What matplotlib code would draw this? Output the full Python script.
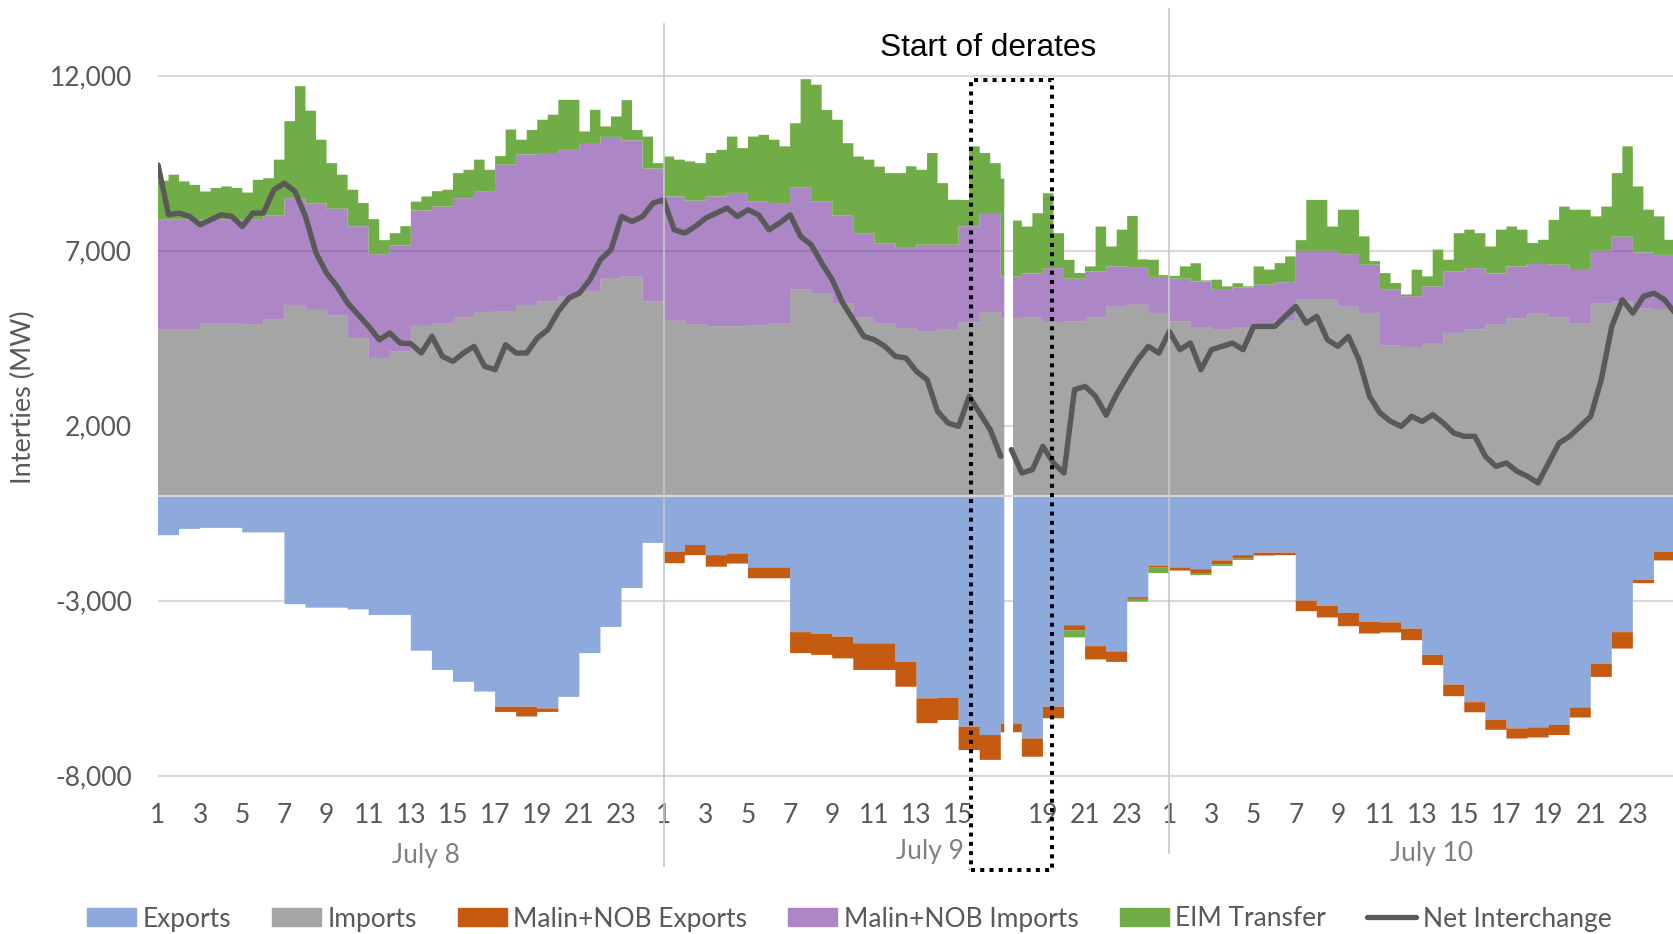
import numpy as np
import matplotlib
matplotlib.use("Agg")
import matplotlib.pyplot as plt
from matplotlib.lines import Line2D
from matplotlib.patches import Patch, Rectangle
from matplotlib.transforms import blended_transform_factory

plt.rcParams['font.family'] = ['Lato', 'DejaVu Sans']

# ---------------- data ----------------
days = ["July 8", "July 9", "July 10"]
hour_labels = [str(h) for h in range(1, 24, 2)]
y_ticks = [-8000, -3000, 2000, 7000, 12000]

# hourly values (72 hours: July 8 h1 .. July 10 h24), MW
imports = [4740, 4740, 4930, 4930, 4900, 5030, 5450, 5310, 5150, 4500, 3930, 4120,
           4850, 4930, 5100, 5250, 5270, 5450, 5550, 5690, 5850, 6200, 6260, 5550,
           5000, 4900, 4840, 4840, 4870, 4930, 5900, 5790, 5500, 5100, 4930, 4790,
           4690, 4740, 4950, 5250, 5070, 5100, 4960, 4980, 5100, 5400, 5460, 5220,
           4980, 4800, 4740, 4800, 4930, 5000, 5600, 5620, 5400, 5220, 4300, 4250,
           4360, 4650, 4750, 4900, 5070, 5200, 5100, 4930, 5500, 5550, 5350, 5310]

malin_nob_imports = [3160, 3160, 2970, 2970, 3000, 2970, 3050, 3040, 3050, 3200, 2970, 3030,
                     3300, 3330, 3400, 3450, 4190, 4300, 4240, 4190, 4200, 4050, 3890, 3800,
                     3550, 3530, 3710, 3810, 3530, 3430, 2900, 2610, 2500, 2400, 2270, 2290,
                     2480, 2430, 2750, 2800, 1190, 1250, 1540, 1220, 1300, 1150, 1050, 1030,
                     1220, 1320, 1140, 1150, 1100, 1100, 1400, 1380, 1500, 1380, 1600, 1450,
                     1620, 1750, 1750, 1450, 1480, 1420, 1500, 1520, 1500, 1850, 1600, 1570]

exports = [-1130, -950, -920, -920, -1050, -1050, -3100, -3200, -3200, -3250, -3410, -3410,
           -4430, -4980, -5320, -5600, -6030, -6030, -6080, -5750, -4500, -3750, -2640, -1350,
           -1600, -1410, -1700, -1650, -2050, -2050, -3900, -3950, -4030, -4220, -4220, -4750,
           -5790, -5770, -6600, -6840, -6510, -6940, -6030, -3700, -4300, -4450, -2900, -2000,
           -2050, -2100, -1850, -1700, -1630, -1630, -3000, -3150, -3350, -3600, -3620, -3800,
           -4550, -5400, -5900, -6400, -6650, -6620, -6550, -6050, -4800, -3900, -2400, -1600]

malin_nob_exports = [0, 0, 0, 0, 0, 0, 0, 0, 0, 0, 0, 0,
                     0, 0, 0, 0, -150, -280, -100, 0, 0, 0, 0, 0,
                     -330, -290, -330, -290, -310, -310, -600, -600, -620, -760, -760, -710,
                     -710, -640, -670, -710, -250, -520, -330, -150, -380, -300, -50, -60,
                     -90, -110, -110, -100, -80, -70, -300, -330, -380, -340, -290, -330,
                     -290, -330, -290, -290, -290, -290, -290, -290, -380, -470, -100, -250]

eim_transfer_negative = [0] * 43 + [-200, 0, 0, -80, -150, 0, -60, -50, -40] + [0] * 20

# half-hourly values (144 half hours)
eim_transfer = [1100, 1270, 1080, 980, 790, 890, 935, 890, 760, 1125, 1070, 1600,
                2200, 3200, 2650, 1820, 1300, 970, 1040, 660, 1000, 400, 350, 550,
                250, 400, 440, 480, 715, 810, 900, 610, 240, 1000, 420, 700,
                950, 1095, 1430, 1430, 356, 975, 300, 585, 1150, 300, 910, 150,
                1140, 1050, 1120, 1070, 1240, 1330, 1610, 1280, 1860, 1910, 1810, 1620,
                1840, 3100, 3340, 2620, 2740, 2070, 2190, 2100, 2200, 2015, 2135, 2330,
                2140, 2620, 1760, 1285, 750, 2280, 1740, 1450, 2800, 1600, 1340, 1720,
                2140, 1000, 540, 160, 150, 1290, 570, 1050, 1480, 240, 490, 50,
                80, 350, 520, 30, 290, 100, 120, 30, 520, 430, 545, 736,
                300, 1450, 1450, 690, 1270, 1270, 810, 100, 460, 174, 50, 755,
                285, 1050, 340, 1100, 1100, 1000, 770, 1250, 1140, 1050, 600, 690,
                1280, 1660, 1720, 1720, 980, 1260, 1815, 2580, 1885, 1220, 1100, 430]

# net interchange every half hour, 0 .. 72 h (145 samples)
net_interchange = [9450, 8025, 8073, 7978, 7740, 7883, 8025, 7978, 7692, 8073, 8073, 8739,
                   8930, 8692, 7978, 6931, 6360, 5979, 5503, 5169, 4836, 4455, 4646, 4360,
                   4340, 4075, 4551, 3979, 3837, 4075, 4265, 3694, 3599, 4313, 4075, 4075,
                   4503, 4741, 5265, 5645, 5788, 6169, 6740, 7026, 7978, 7835, 7978, 8359,
                   8454, 7597, 7502, 7692, 7930, 8073, 8216, 7978, 8168, 8025, 7597, 7787,
                   8025, 7407, 7169, 6645, 6169, 5503, 5027, 4551, 4455, 4265, 3979, 3932,
                   3551, 3313, 2408, 2075, 1980, 2837, 2361, 1885, 1123, 1314, 647, 743,
                   1409, 933, 647, 3027, 3123, 2837, 2300, 2900, 3408, 3884, 4265, 4075,
                   4693, 4170, 4360, 3599, 4170, 4265, 4360, 4170, 4836, 4836, 4836, 5122,
                   5407, 4931, 5122, 4455, 4265, 4551, 3884, 2837, 2361, 2123, 1980, 2266,
                   2120, 2313, 2075, 1790, 1695, 1695, 1123, 838, 933, 695, 552, 362,
                   933, 1504, 1695, 1980, 2266, 3313, 4836, 5598, 5217, 5693, 5788, 5598,
                   5217]

data_gap = (40.2, 40.55)   # hours with missing data

# ---------------- styling ----------------
C_EXP = '#8EA9DB'
C_IMP = '#A5A5A5'
C_MEXP = '#C55A11'
C_MIMP = '#AE86C8'
C_MIMP_BASE = '#75359F'
C_EIM = '#70AD47'
C_NET = '#595959'
TXT = '#595959'

W, H = 1673, 934
fig = plt.figure(figsize=(W / 100, H / 100), dpi=100)
ax_left, ax_right = 158, 1675
ax_top, ax_bot = 74.8, 776.5
ax = fig.add_axes([ax_left / W, 1 - ax_bot / H, (ax_right - ax_left) / W, (ax_bot - ax_top) / H])
ax.set_xlim(0, 72)
ax.set_ylim(-8025, 12025)

# fine step grid (5 minute) for stacked areas
sub = 12
x5 = np.arange(72 * sub + 1) / sub
gap_mask = (x5 >= data_gap[0]) & (x5 < data_gap[1])


def on_grid(vals, per_hour):
    arr = np.repeat(np.asarray(vals, float), sub // per_hour)
    arr = np.append(arr, arr[-1])
    arr[gap_mask] = np.nan
    return arr


imp = on_grid(imports, 1)
mimp = on_grid(malin_nob_imports, 1)
eim = on_grid(eim_transfer, 2)
exp_ = on_grid(exports, 1)
mexp = on_grid(malin_nob_exports, 1)
eneg = on_grid(eim_transfer_negative, 1)

kw = dict(step='post', linewidth=0, antialiased=True)
ax.fill_between(x5, 0, imp, color=C_IMP, zorder=2, **kw)
ax.fill_between(x5, imp, imp + mimp, color=C_MIMP_BASE, alpha=0.6, zorder=2, **kw)
ax.fill_between(x5, imp + mimp, imp + mimp + eim, color=C_EIM, zorder=2, **kw)
ax.fill_between(x5, 0, exp_, color=C_EXP, zorder=2, **kw)
ax.fill_between(x5, exp_, exp_ + mexp, color=C_MEXP, zorder=2, **kw)
ax.fill_between(x5, exp_ + mexp, exp_ + mexp + eneg, color=C_EIM, zorder=2, **kw)

ax.axhline(0, color='#d9d9d9', lw=1.5, zorder=3)

net = np.asarray(net_interchange, float)
net_t = np.arange(len(net)) / 2
pre = net_t <= data_gap[0]
post = net_t >= data_gap[0]
for m in (pre, post):
    ax.plot(net_t[m], net[m], color=C_NET, lw=3.9, solid_joinstyle='round',
            solid_capstyle='round', zorder=4)

# axes styling
ax.set_yticks(y_ticks)
ax.set_yticklabels([f"{v:,}" for v in y_ticks])
ax.yaxis.grid(True, color='#d9d9d9', lw=1.5)
ax.set_axisbelow(True)
xt, xl = [], []
for d in range(len(days)):
    for lab in hour_labels:
        h = int(lab)
        xt.append(24 * d + h - 1)
        xl.append('' if (d == 1 and h == 17) else lab)
ax.set_xticks(xt)
ax.set_xticklabels(xl)
ax.tick_params(axis='both', length=0, labelsize=19, labelcolor=TXT)
ax.tick_params(axis='y', pad=18.8)
ax.tick_params(axis='x', pad=19)
for s in ax.spines.values():
    s.set_visible(False)

# day labels and dividers
bt = blended_transform_factory(ax.transData, fig.transFigure)
day_label_offset = [12.7, 12.65, 12.45]
day_label_y = [855, 851, 853]
for d, name in enumerate(days):
    ax.text(24 * d + day_label_offset[d], 1 - day_label_y[d] / H, name, transform=bt,
            ha='center', va='center', fontsize=19, color='#808080')
for d in (1, 2):
    ytop = 23.5 if d == 1 else 8.5
    ybot = 866 if d == 1 else 853
    fig.add_artist(Line2D([24 * d, 24 * d], [1 - ytop / H, 1 - ybot / H], transform=bt,
                          color='#c8c8c8', lw=1.2, zorder=5))

fig.text(23 / W, 1 - 397 / H, 'Interties (MW)', rotation=90, ha='center', va='center',
         fontsize=19.5, color=TXT)

# annotation
fig.text(988 / W, 1 - 48 / H, 'Start of derates', ha='center', va='center',
         fontsize=22.8, color='black', family='Liberation Sans')
fig.add_artist(Rectangle((971 / W, 1 - 870 / H), 81 / W, 790 / H, transform=fig.transFigure,
                         fill=False, edgecolor='black', lw=2.9, linestyle=(0, (1, 1.3)),
                         zorder=6))

# legend
handles = [Patch(color=C_EXP), Patch(color=C_IMP), Patch(color=C_MEXP), Patch(color=C_MIMP),
           Patch(color=C_EIM), Line2D([], [], color=C_NET, lw=3.8, solid_capstyle='round')]
labels = ['Exports', 'Imports', 'Malin+NOB Exports', 'Malin+NOB Imports', 'EIM Transfer',
          'Net Interchange']
fig.legend(handles, labels, loc='center', bbox_to_anchor=(849 / W, 1 - 919 / H), ncol=6,
           frameon=False, fontsize=19, handlelength=1.86, handleheight=0.65, handletextpad=0.25,
           columnspacing=1.55, borderpad=0, labelcolor=TXT)

fig.savefig('out.png', dpi=100)
